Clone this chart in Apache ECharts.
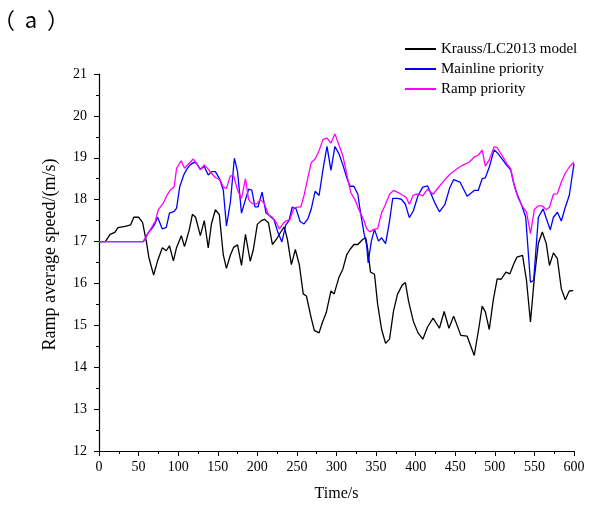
<!DOCTYPE html>
<html><head><meta charset="utf-8">
<script src="https://cdn.jsdelivr.net/npm/echarts@6/dist/echarts.min.js"></script>
<style>html,body{margin:0;padding:0;background:#fff}#c{width:600px;height:508px}</style>
</head><body><div id="c"></div>
<script>
const seriesNames = ['Krauss/LC2013 model', 'Mainline priority', 'Ramp priority'];
const xTicks = [0, 50, 100, 150, 200, 250, 300, 350, 400, 450, 500, 550, 600];
const yTicks = [12, 13, 14, 15, 16, 17, 18, 19, 20, 21];

const kraussT = [0,8,14,20,24,33,40,44,50,55,60,63,69,74,80,85,89,94,98,104,108,114,118,122,128,133,138,142,147,152,157,161,166,170,175,180,185,191,195,200,205,209,214,219,224,229,234,238,243,248,253,258,262,268,272,278,282,287,293,297,303,308,313,317,322,327,333,337,339,343,348,352,357,362,367,372,377,383,387,391,397,403,409,415,422,430,436,442,448,457,465,474,480,484,488,493,498,503,508,514,519,524,528,535,540,545,550,555,560,565,569,574,579,584,589,594,599];
const kraussV = [17.0,17.0,17.17,17.22,17.33,17.36,17.4,17.58,17.58,17.46,16.98,16.62,16.2,16.54,16.85,16.78,16.9,16.54,16.86,17.14,16.88,17.28,17.65,17.58,17.14,17.5,16.85,17.42,17.76,17.64,16.68,16.36,16.68,16.86,16.92,16.43,17.17,16.53,16.81,17.41,17.5,17.53,17.45,16.93,17.05,17.21,17.35,17.05,16.45,16.81,16.45,15.75,15.7,15.18,14.88,14.82,15.06,15.3,15.82,15.75,16.14,16.34,16.69,16.81,16.93,16.93,17.05,17.09,16.87,16.27,16.22,15.5,14.9,14.57,14.67,15.34,15.74,15.96,16.02,15.58,15.1,14.82,14.67,14.96,15.17,14.93,15.33,14.93,15.22,14.76,14.74,14.28,14.96,15.46,15.32,14.9,15.6,16.11,16.1,16.27,16.23,16.47,16.63,16.67,16.07,15.08,16.15,16.96,17.23,16.95,16.43,16.73,16.59,15.87,15.61,15.82,15.83];

const mainT = [0,56,62,66,70,74,80,85,89,95,98,102,107,111,115,120,123,128,133,138,142,147,152,157,161,166,171,175,180,185,189,193,197,201,206,211,216,221,226,231,236,240,244,249,254,259,264,268,273,278,283,288,293,298,303,308,313,317,322,327,330,335,338,340,344,348,353,357,362,367,371,377,382,387,392,397,403,409,415,424,430,437,443,448,456,465,474,479,484,488,493,499,504,510,515,520,524,528,534,539,545,549,555,561,565,570,574,579,584,589,594,600];
const mainV = [17.0,17.0,17.2,17.29,17.4,17.58,17.3,17.34,17.68,17.72,17.8,18.31,18.59,18.73,18.83,18.89,18.87,18.73,18.79,18.59,18.67,18.67,18.51,18.23,17.37,17.95,18.99,18.67,17.68,18.0,18.25,18.23,17.83,17.83,18.18,17.68,17.61,17.52,17.22,16.99,17.4,17.5,17.82,17.78,17.48,17.42,17.55,17.77,18.2,18.1,18.73,19.27,18.7,19.27,19.1,18.83,18.52,18.32,18.32,18.13,17.73,17.17,16.93,16.49,17.01,17.29,17.01,17.09,16.95,17.49,18.03,18.03,18.01,17.89,17.57,17.73,18.1,18.3,18.33,17.93,17.71,17.89,18.28,18.48,18.42,18.08,18.22,18.22,18.5,18.52,18.78,19.19,19.1,18.95,18.82,18.71,18.38,18.14,17.86,17.58,16.03,16.07,17.58,17.78,17.55,17.28,17.58,17.7,17.49,17.82,18.1,18.86];

const rampT = [0,56,62,66,71,75,81,86,90,95,98,104,108,114,119,123,128,133,138,142,147,153,157,161,166,170,175,180,185,189,194,199,204,209,214,219,224,228,233,237,241,246,251,255,259,263,268,273,278,283,288,293,298,303,308,314,318,324,329,335,338,342,347,352,357,361,367,372,378,383,388,392,397,403,409,415,422,430,437,444,451,459,468,474,479,484,488,493,499,503,509,515,520,525,529,534,540,545,550,555,560,565,569,574,579,584,589,594,600];
const rampV = [17.0,17.0,17.2,17.32,17.48,17.76,17.91,18.11,18.23,18.31,18.75,18.93,18.75,18.87,18.97,18.87,18.71,18.83,18.73,18.63,18.53,18.47,18.3,18.27,18.57,18.57,18.23,18.03,18.5,18.0,17.9,17.9,18.0,17.9,17.64,17.58,17.45,17.3,17.44,17.5,17.52,17.8,17.82,17.83,18.1,18.45,18.88,18.97,19.17,19.44,19.47,19.35,19.57,19.31,19.05,18.52,18.17,17.97,17.73,17.49,17.31,17.23,17.29,17.31,17.69,17.85,18.13,18.22,18.17,18.11,18.05,17.89,18.11,18.14,18.09,18.25,18.13,18.32,18.48,18.62,18.72,18.82,18.9,19.02,19.06,19.18,18.8,18.95,19.26,19.24,19.06,18.86,18.74,18.3,18.06,17.86,17.7,17.19,17.77,17.85,17.85,17.76,17.82,18.13,18.14,18.42,18.63,18.78,18.9];

const colors = ['#000000', '#0000ff', '#ff00ff'];
const zip = (t, v) => t.map((x, i) => [x, v[i]]);
const serif = '"Liberation Serif", "Times New Roman", serif';

const chart = echarts.init(document.getElementById('c'), null, {renderer: 'canvas'});
chart.setOption({
  animation: false,
  backgroundColor: '#ffffff',
  title: {
    text: '（  a  ）', left: -12, top: 4,
    textStyle: {fontFamily: '"Noto Sans CJK SC", serif', fontSize: 22, fontWeight: 'normal', color: '#000'}
  },
  legend: {
    orient: 'vertical', left: 400, top: 36, itemGap: 4, itemWidth: 31, itemHeight: 2,
    icon: 'rect',
    data: seriesNames,
    textStyle: {fontFamily: serif, fontSize: 15, color: '#000', lineHeight: 16}
  },
  grid: {left: 99, right: 26, top: 74, bottom: 57, containLabel: false},
  xAxis: {
    type: 'value', min: xTicks[0], max: xTicks[xTicks.length - 1], interval: 50,
    name: 'Time/s', nameLocation: 'middle', nameGap: 35,
    nameTextStyle: {fontFamily: serif, fontSize: 16, color: '#000'},
    axisLine: {lineStyle: {color: '#000', width: 1.2}},
    axisTick: {inside: false, length: 5, lineStyle: {color: '#000'}},
    minorTick: {show: true, splitNumber: 2, length: 3, lineStyle: {color: '#000'}},
    axisLabel: {fontFamily: serif, fontSize: 14, color: '#000', margin: 9},
    splitLine: {show: false}
  },
  yAxis: {
    type: 'value', min: yTicks[0], max: yTicks[yTicks.length - 1], interval: 1,
    name: 'Ramp average speed/(m/s)', nameLocation: 'middle', nameGap: 40,
    nameTextStyle: {fontFamily: serif, fontSize: 18, color: '#000', padding: [0, 0, 0, 16]},
    axisLine: {show: true, lineStyle: {color: '#000', width: 1.2}},
    axisTick: {show: true, inside: false, length: 5, lineStyle: {color: '#000'}},
    minorTick: {show: true, splitNumber: 2, length: 3, lineStyle: {color: '#000'}},
    axisLabel: {fontFamily: serif, fontSize: 14, color: '#000', margin: 12},
    splitLine: {show: false}
  },
  series: [
    {name: seriesNames[0], type: 'line', data: zip(kraussT, kraussV), symbol: 'none', lineStyle: {color: colors[0], width: 1.3}, itemStyle: {color: colors[0]}},
    {name: seriesNames[1], type: 'line', data: zip(mainT, mainV), symbol: 'none', lineStyle: {color: colors[1], width: 1.3}, itemStyle: {color: colors[1]}},
    {name: seriesNames[2], type: 'line', data: zip(rampT, rampV), symbol: 'none', lineStyle: {color: colors[2], width: 1.3}, itemStyle: {color: colors[2]}}
  ]
});
</script></body></html>
